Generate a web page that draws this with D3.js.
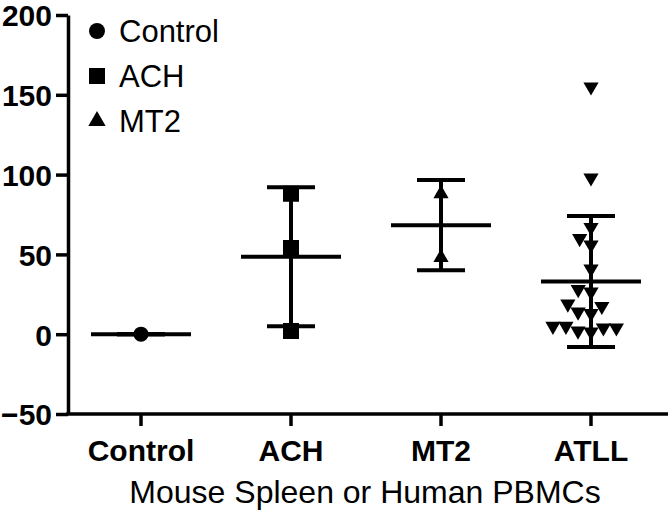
<!DOCTYPE html>
<html>
<head>
<meta charset="utf-8">
<script src="https://cdn.jsdelivr.net/npm/d3@7"></script>
<style>
    body { margin: 0; background: #fff; }
    svg { display: block; font-family: "Liberation Sans", Arial, sans-serif; }
    .axis path, .axis line { stroke: #000; stroke-width: 3.5; }
    .axis text { font-size: 30px; font-weight: bold; fill: #000; }
    .bar { stroke: #000; stroke-width: 4; fill: none; }
</style>
</head>
<body>
<svg id="chart" width="668" height="511"></svg>
<script>

// groups on the x axis
var categories = ['Control', 'ACH', 'MT2', 'ATLL'];

// individual values
var controlValues = [0];
var achValues = [88, 54, 2];
var mt2Values = [88, 48];
var atllValues = [155, 98, 67, 60, 56, 41, 28, 26.5, 19, 17.5, 14, 13, 5, 4, 1.5, 2, 4, 5];

// mean and SD as drawn by the bars
var means = [0, 48.5, 68.3, 33];
var sds = [0, 43.5, 28.3, 41];

var yTicks = [-50, 0, 50, 100, 150, 200];
var legendLabels = ['Control', 'ACH', 'MT2'];

var groupValues = [controlValues, achValues, mt2Values, atllValues];
var symbols = [d3.symbolCircle, d3.symbolSquare, d3.symbolTriangle, d3.symbolTriangle];
var symbolSizes = [180, 256, 100, 100];
var symbolRotate = [0, 0, 0, 180];

var svg = d3.select('#chart');

var x = d3.scaleBand()
    .domain(categories)
    .range([66, 666]);

var y = d3.scaleLinear()
    .domain([-50, 200])
    .range([414, 15]);

var meanHalf = 50,
    capHalf = 24;

// y axis
var yAxis = svg.append('g')
    .attr('class', 'axis yAxis')
    .attr('transform', 'translate(68,0)')
    .call(d3.axisLeft(y).tickValues(yTicks).tickSize(12).tickSizeOuter(0).tickPadding(4));

yAxis.selectAll('.tick text').attr('dy', '0.36em');

// x axis
var xAxis = svg.append('g')
    .attr('class', 'axis xAxis')
    .attr('transform', 'translate(0,' + y(-50) + ')')
    .call(d3.axisBottom(x).tickSize(12).tickSizeOuter(0).tickPadding(14));

xAxis.select('.domain').attr('d', 'M66.25,0H668');
xAxis.selectAll('.tick text').attr('dy', '0.71em');

svg.append('text')
    .attr('x', 365)
    .attr('y', 503)
    .attr('text-anchor', 'middle')
    .style('font-size', '32px')
    .text('Mouse Spleen or Human PBMCs');

// mean and SD bars
categories.forEach(function(c, i) {
    var cx = x(c) + x.bandwidth() / 2;
    var g = svg.append('g');
    g.append('line').attr('class', 'bar')
        .attr('x1', cx).attr('x2', cx)
        .attr('y1', y(means[i] + sds[i])).attr('y2', y(means[i] - sds[i]));
    [means[i] + sds[i], means[i] - sds[i]].forEach(function(v) {
        g.append('line').attr('class', 'bar')
            .attr('x1', cx - capHalf).attr('x2', cx + capHalf)
            .attr('y1', y(v)).attr('y2', y(v));
    });
    g.append('line').attr('class', 'bar')
        .attr('x1', cx - meanHalf).attr('x2', cx + meanHalf)
        .attr('y1', y(means[i])).attr('y2', y(means[i]));
});

// simple swarm so points that share a height spread sideways
function swarm(vals, D) {
    var placed = [];
    var order = d3.range(vals.length).sort(function(a, b) { return vals[a] - vals[b]; });
    order.forEach(function(i) {
        var py = y(vals[i]);
        var near = placed.filter(function(p) { return Math.abs(p.y - py) < D; });
        var cands = [0];
        near.forEach(function(p) {
            var d = Math.sqrt(D * D - (p.y - py) * (p.y - py));
            cands.push(p.dx - d, p.dx + d);
        });
        cands.sort(function(a, b) { return Math.abs(a) - Math.abs(b); });
        var dx = cands.find(function(c) {
            return near.every(function(p) {
                return (p.dx - c) * (p.dx - c) + (p.y - py) * (p.y - py) >= D * D - 0.01;
            });
        });
        placed.push({ i: i, dx: dx, y: py, v: vals[i] });
    });
    return placed;
}

groupValues.forEach(function(vals, i) {
    var cx = x(categories[i]) + x.bandwidth() / 2;
    var pts = swarm(vals, 13);
    svg.append('g').selectAll('path')
        .data(pts)
      .enter().append('path')
        .attr('d', d3.symbol().type(symbols[i]).size(symbolSizes[i]))
        .attr('transform', function(d) {
            return 'translate(' + (cx + d.dx) + ',' + d.y + ') rotate(' + symbolRotate[i] + ')';
        })
        .attr('fill', '#000');
});

// legend
var legend = svg.append('g')
    .attr('transform', 'translate(97,31)');

var rows = legend.selectAll('g')
    .data(legendLabels)
  .enter().append('g')
    .attr('transform', function(d, i) { return 'translate(0,' + (i * 45) + ')'; });

rows.append('path')
    .attr('d', function(d, i) {
        return d3.symbol().type(symbols[i]).size([200, 256, 130][i])();
    })
    .attr('fill', '#000');

rows.append('text')
    .attr('x', 22)
    .attr('dy', '0.35em')
    .style('font-size', '31px')
    .text(function(d) { return d; });

</script>
</body>
</html>
